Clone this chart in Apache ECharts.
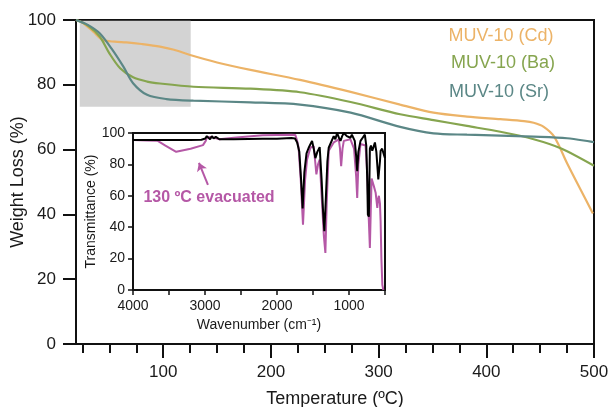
<!DOCTYPE html>
<html><head><meta charset="utf-8">
<script src="https://cdn.jsdelivr.net/npm/echarts@6/dist/echarts.min.js"></script>
<style>html,body{margin:0;padding:0;background:#fff}#c{width:611px;height:407px}</style>
</head><body><div id="c"></div>
<script>
// ---- TGA data (main chart) ----
const cdTemps = [19, 25, 35, 44, 55, 66, 80, 97, 110, 125, 150, 181, 227, 274, 320, 351, 382, 413, 435, 444, 453, 463, 475, 487, 499];
const cdVals  = [100, 99.2, 96.4, 93.8, 93.3, 93.1, 92.6, 91.8, 90.8, 89.2, 86.9, 84.6, 81.5, 77.8, 73.9, 71.4, 70.2, 69.4, 68.8, 68.3, 67.1, 64.0, 55.8, 48.0, 40.3];
const baTemps = [19, 30, 41, 50, 60, 72, 85, 97, 128, 181, 227, 274, 320, 351, 382, 413, 444, 469, 500];
const baVals  = [100, 98.3, 94.9, 89.7, 85.1, 82.3, 81.0, 80.4, 79.4, 78.8, 77.7, 74.7, 70.9, 69.1, 67.3, 65.5, 63.2, 60.4, 55.0];
const srTemps = [19, 30, 41, 53, 63, 72, 85, 103, 128, 181, 227, 274, 320, 351, 382, 413, 444, 475, 500];
const srVals  = [100, 98.5, 95.9, 90.7, 85.6, 80.5, 76.9, 75.6, 75.1, 74.6, 73.9, 71.4, 67.0, 65.0, 64.6, 64.3, 64.0, 63.5, 62.3];
const seriesNames = ['MUV-10 (Cd)', 'MUV-10 (Ba)', 'MUV-10 (Sr)'];
const tempMajorTicks = [100, 200, 300, 400, 500];
const tempMinorTicks = [25, 50, 75, 100, 125, 150, 175, 200, 225, 250, 275, 300, 325, 350, 375, 400, 425, 450, 475, 500];
const mainBox = [[22.5, 73.2], [125.5, 99.8]];

// ---- IR data (inset) ----
const irBlackW = [4000, 3800, 3600, 3400, 3200, 3050, 2996, 2975, 2955, 2930, 2905, 2880, 2850, 2800, 2600, 2400, 2200, 2000, 1800, 1750, 1720, 1690, 1665, 1644, 1620, 1590, 1560, 1513, 1490, 1467, 1440, 1407, 1380, 1360, 1342, 1320, 1300, 1282, 1212, 1190, 1165, 1140, 1118, 1095, 1072, 1030, 980, 960, 942, 920, 900, 886, 870, 840, 810, 780, 760, 746, 738, 724, 710, 695, 677, 660, 640, 620, 600, 593, 585, 570, 561, 540, 515, 500];
const irBlackV = [95.5, 95.5, 95.5, 95.5, 95.6, 95.7, 96.5, 98, 97, 96, 98, 96.5, 97.5, 96, 96, 96.2, 96.3, 96.4, 96.8, 96.5, 94, 88, 70, 52, 75, 87, 90.6, 95, 90, 84, 88, 91, 70, 50, 37.4, 60, 82, 90.6, 98, 96, 100, 97, 95, 98, 100, 98, 97, 99, 100, 95, 85, 75.7, 88, 95, 97, 99, 92, 69, 48, 46.7, 90, 92, 88.7, 91, 94, 88, 75, 70.4, 70, 82, 88.7, 90, 90.6, 84];
const irPinkW = [4000, 3800, 3656, 3550, 3400, 3200, 3028, 2990, 2975, 2950, 2920, 2866, 2800, 2773, 2600, 2400, 2200, 2000, 1800, 1746, 1720, 1700, 1670, 1639, 1610, 1583, 1537, 1491, 1470, 1453, 1430, 1407, 1380, 1350, 1328, 1310, 1282, 1212, 1142, 1125, 1109, 1090, 1072, 980, 930, 900, 886, 870, 840, 770, 746, 725, 710, 698, 686, 670, 654, 630, 607, 595, 585, 570, 561, 550, 537, 523];
const irPinkV = [95.5, 95.3, 95, 92, 88, 90, 92.3, 95, 97, 96, 97.5, 97, 96, 95.5, 97, 97.8, 98.5, 98.8, 98.9, 98.8, 95, 90.6, 70, 41.6, 70, 83, 90.6, 91.7, 82, 73.6, 80, 83, 60, 35, 23.6, 55, 88.7, 94, 96, 90, 78.9, 90, 95, 96, 90, 72, 58.7, 80, 93, 92, 73.6, 45, 26.8, 50, 71, 70, 66, 62, 52.3, 58, 60, 55, 44, 20, 3.3, 0];
const insetBox = [[3869, 82.5], [2745, 98.9]];
const arrowFrom = [2959, 67];
const arrowTo = [3084, 81];
const annotation = '130 ºC evacuated';

const colors = ['#ECB367', '#86A54F', '#5B8786'];
const pink = '#B558A6';
const txt = '#1a1a1a';
const F = 'Liberation Sans, Arial, sans-serif';

const pairs = (xs, ys) => xs.map((x, i) => [x, ys[i]]);

const chart = echarts.init(document.getElementById('c'));
chart.setOption({
  animation: false,
  backgroundColor: '#fff',
  textStyle: { fontFamily: F, color: txt },
  grid: [
    { left: 76, top: 20, width: 518, height: 324, show: true, borderColor: '#111', borderWidth: 2, backgroundColor: 'transparent', containLabel: false, outerBoundsMode: 'none' },
    { left: 133, top: 133, width: 252, height: 157, show: true, borderColor: '#111', borderWidth: 2, backgroundColor: '#fff', containLabel: false, outerBoundsMode: 'none', z: 3 }
  ],
  xAxis: [
    { gridIndex: 0, type: 'value', min: 19, max: 500, position: 'bottom',
      axisLine: { show: true, lineStyle: { color: '#111', width: 2 } },
      axisTick: { show: true, customValues: tempMajorTicks, length: 14, lineStyle: { color: '#111', width: 2 } },
      axisLabel: { customValues: tempMajorTicks, fontSize: 17, margin: 20, color: txt, fontFamily: F },
      splitLine: { show: false },
      name: 'Temperature (ºC)', nameLocation: 'middle', nameGap: 46,
      nameTextStyle: { fontSize: 18, color: txt, fontFamily: F } },
    { gridIndex: 0, type: 'value', min: 19, max: 500, position: 'bottom',
      axisLine: { show: false },
      axisTick: { show: true, customValues: tempMinorTicks, length: 9, lineStyle: { color: '#111', width: 2 } },
      axisLabel: { show: false }, splitLine: { show: false } },
    { gridIndex: 1, type: 'value', min: 500, max: 4000, interval: 500, inverse: true, position: 'bottom',
      axisLine: { show: true, lineStyle: { color: '#111', width: 2 } },
      axisTick: { show: true, length: 5, lineStyle: { color: '#111', width: 1.5 } },
      axisLabel: { fontSize: 14, margin: 9, color: txt, fontFamily: F, showMinLabel: true, showMaxLabel: true,
        formatter: v => (v % 1000 === 0 ? String(v) : '') },
      splitLine: { show: false },
      name: 'Wavenumber (cm⁻¹)', nameLocation: 'middle', nameGap: 28,
      nameTextStyle: { fontSize: 14, color: txt, fontFamily: F } }
  ],
  yAxis: [
    { gridIndex: 0, type: 'value', min: 0, max: 100, interval: 20,
      axisLine: { show: true, lineStyle: { color: '#111', width: 2 } },
      axisTick: { show: true, length: 13, lineStyle: { color: '#111', width: 2 } },
      axisLabel: { fontSize: 17, margin: 20, color: txt, fontFamily: F },
      splitLine: { show: false },
      name: 'Weight Loss (%)', nameLocation: 'middle', nameGap: 49, nameRotate: 90, nameMoveOverlap: false,
      nameTextStyle: { fontSize: 18, color: txt, fontFamily: F } },
    { gridIndex: 1, type: 'value', min: 0, max: 100, interval: 20,
      axisLine: { show: true, lineStyle: { color: '#111', width: 2 } },
      axisTick: { show: true, length: 5, lineStyle: { color: '#111', width: 1.5 } },
      axisLabel: { fontSize: 14, margin: 8, color: txt, fontFamily: F },
      splitLine: { show: false },
      name: 'Transmittance (%)', nameLocation: 'middle', nameGap: 31, nameRotate: 90,
      nameTextStyle: { fontSize: 14, color: txt, fontFamily: F } }
  ],
  series: [
    { type: 'line', xAxisIndex: 0, yAxisIndex: 0, data: [], z: 1, silent: true,
      markArea: { silent: true, itemStyle: { color: '#d3d3d3' },
        data: [[{ coord: mainBox[0] }, { coord: mainBox[1] }]] } },
    { type: 'line', xAxisIndex: 2, yAxisIndex: 1, data: [], z: 4, silent: true,
      markArea: { silent: true, itemStyle: { color: '#d3d3d3' },
        data: [[{ coord: insetBox[0] }, { coord: insetBox[1] }]] } },
    { name: seriesNames[0], type: 'line', xAxisIndex: 0, yAxisIndex: 0, data: pairs(cdTemps, cdVals),
      smooth: 0.3, showSymbol: false, lineStyle: { color: colors[0], width: 2.2 }, z: 5 },
    { name: seriesNames[1], type: 'line', xAxisIndex: 0, yAxisIndex: 0, data: pairs(baTemps, baVals),
      smooth: 0.3, showSymbol: false, lineStyle: { color: colors[1], width: 2.2 }, z: 5 },
    { name: seriesNames[2], type: 'line', xAxisIndex: 0, yAxisIndex: 0, data: pairs(srTemps, srVals),
      smooth: 0.3, showSymbol: false, lineStyle: { color: colors[2], width: 2.2 }, z: 5 },
    { name: 'evacuated', type: 'line', xAxisIndex: 2, yAxisIndex: 1, data: pairs(irPinkW, irPinkV),
      showSymbol: false, lineStyle: { color: pink, width: 2 }, z: 6, clip: true,
      markLine: { silent: true, symbol: ['none', 'arrow'], symbolSize: 8,
        lineStyle: { color: pink, width: 2, type: 'solid' }, label: { show: false },
        data: [[{ coord: arrowFrom }, { coord: arrowTo }]] } },
    { name: 'as-made', type: 'line', xAxisIndex: 2, yAxisIndex: 1, data: pairs(irBlackW, irBlackV),
      showSymbol: false, lineStyle: { color: '#000', width: 2 }, z: 7, clip: true }
  ],
  graphic: [
    { type: 'text', x: 501, y: 36, z: 10, style: { text: seriesNames[0], fill: colors[0], font: '18px ' + F, textAlign: 'center', textVerticalAlign: 'middle' } },
    { type: 'text', x: 503, y: 63, z: 10, style: { text: seriesNames[1], fill: colors[1], font: '18px ' + F, textAlign: 'center', textVerticalAlign: 'middle' } },
    { type: 'text', x: 499, y: 92, z: 10, style: { text: seriesNames[2], fill: colors[2], font: '18px ' + F, textAlign: 'center', textVerticalAlign: 'middle' } },
    { type: 'text', x: 209, y: 198, z: 10, style: { text: annotation, fill: pink, font: 'bold 16px ' + F, textAlign: 'center', textVerticalAlign: 'middle' } }
  ]
});
</script></body></html>
